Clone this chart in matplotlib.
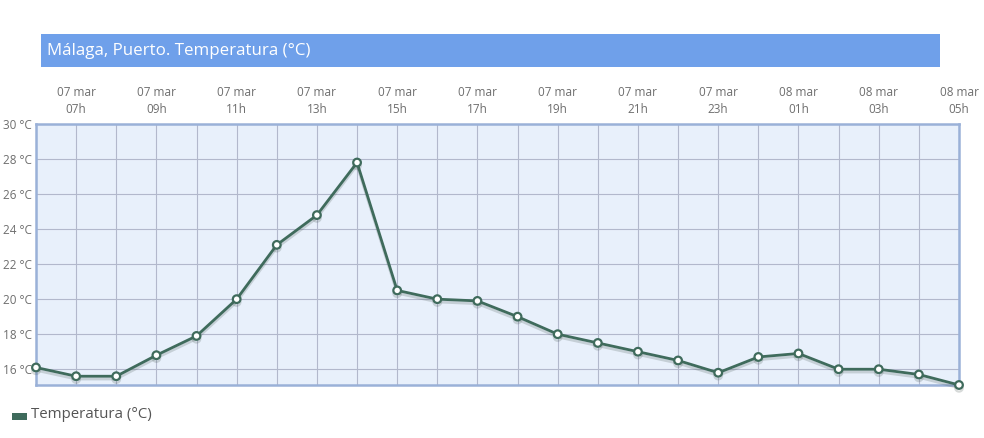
import matplotlib
matplotlib.use("Agg")
import matplotlib.pyplot as plt
import matplotlib.patheffects as pe
from matplotlib.patches import Rectangle

plt.rcParams['font.family'] = ['Open Sans', 'DejaVu Sans']

days = ["07 mar"] * 18 + ["08 mar"] * 6
hours = ["06h", "07h", "08h", "09h", "10h", "11h", "12h", "13h", "14h", "15h", "16h", "17h",
         "18h", "19h", "20h", "21h", "22h", "23h", "00h", "01h", "02h", "03h", "04h", "05h"]
temperature = [16.1, 15.6, 15.6, 16.8, 17.9, 20.0, 23.1, 24.8, 27.8, 20.5, 20.0, 19.9,
               19.0, 18.0, 17.5, 17.0, 16.5, 15.8, 16.7, 16.9, 16.0, 16.0, 15.7, 15.1]
y_ticks = [16, 18, 20, 22, 24, 26, 28, 30]
title = "Málaga, Puerto. Temperatura (°C)"
series_name = "Temperatura (°C)"

line_color = "#3f6b5c"
text_color = "#6e6e6e"

fig = plt.figure(figsize=(9.84, 4.38), dpi=100)
ax = fig.add_axes([36 / 984, 1 - 385 / 438, (959 - 36) / 984, (385 - 124) / 438])
ax.set_facecolor("#e8f0fb")

x = list(range(len(temperature)))
ax.plot(x, temperature, color=line_color, lw=2, marker="o", ms=5.5,
        mfc="white", mec=line_color, mew=1.6, zorder=5, clip_on=False,
        path_effects=[pe.SimpleLineShadow(offset=(0, -2), alpha=0.22, shadow_color="#4a5a55"), pe.Normal()])

ax.set_xlim(0, len(temperature) - 1)
ax.set_ylim(min(temperature), 30)

ax.set_xticks(x, minor=True)
major = list(range(1, len(temperature), 2))
ax.set_xticks(major)
ax.set_xticklabels([f"{days[i]}\n{hours[i]}" for i in major], fontsize=8.5, color=text_color,
                   linespacing=1.35)
ax.xaxis.tick_top()
ax.tick_params(axis="x", which="both", length=0, pad=6)
ax.set_yticks(y_ticks)
ax.set_yticklabels([f"{v} °C" for v in y_ticks], fontsize=8.5, color=text_color)
ax.tick_params(axis="y", length=0, pad=3)

ax.grid(True, which="both", axis="x", color="#b2b8cc", lw=0.8)
ax.grid(True, which="major", axis="y", color="#b2b8cc", lw=0.8)
ax.set_axisbelow(True)
for s in ax.spines.values():
    s.set_color("#9ab1d8")
    s.set_linewidth(1.8)

# title bar
fig.patches.append(Rectangle((41 / 984, 1 - 67 / 438), (940 - 41) / 984, 33 / 438,
                             transform=fig.transFigure, facecolor="#6fa0ea", edgecolor="none"))
fig.text(47 / 984, 1 - 51 / 438, title, color="white", fontsize=12.2, va="center", ha="left")

# legend
fig.patches.append(Rectangle((12 / 984, 1 - 420 / 438), 15 / 984, 7 / 438,
                             transform=fig.transFigure, facecolor=line_color, edgecolor="none"))
fig.text(31 / 984, 1 - 415 / 438, series_name, color="#555555", fontsize=10.8, va="center", ha="left")

fig.savefig("out.png", dpi=100)
